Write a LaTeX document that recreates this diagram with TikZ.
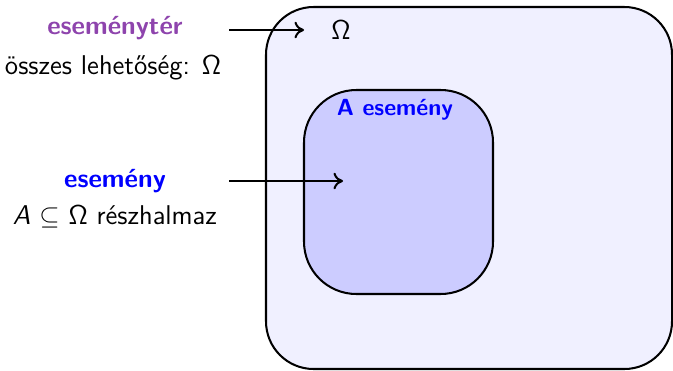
\documentclass[tikz,border=0pt]{standalone}
\usetikzlibrary{arrows.meta}
\definecolor{evpurple}{RGB}{142,68,173}
\definecolor{evblue}{RGB}{0,0,255}
\definecolor{outerfill}{RGB}{240,240,255}
\definecolor{innerfill}{RGB}{204,204,255}
\begin{document}
\begin{tikzpicture}[x=0.42pt,y=-0.42pt,
  every node/.style={font=\sffamily\fontsize{11.4}{13}\selectfont, inner sep=0pt},
  setbox/.style={draw=black, line width=0.85pt},
  head/.style={font=\sffamily\bfseries\fontsize{11}{13}\selectfont},
  smallhead/.style={font=\sffamily\bfseries\fontsize{9.8}{12}\selectfont},
  pointer/.style={-{To[length=4pt,width=7pt]}, line width=0.85pt}]
\useasboundingbox (0,0) rectangle (673,370);
\draw[setbox, fill=outerfill, rounded corners=20pt] (266,7) rectangle (672,369);
\draw[setbox, fill=innerfill, rounded corners=22pt] (304,90) rectangle (493,294);
\node[head, text=evpurple] (spacehead) at (115,28) {eseménytér};
\node (spacedesc) at (113,68) {összes lehetőség: Ω};
\node[head, text=evblue] (eventhead) at (115,181) {esemény};
\node (eventdesc) at (115,217) {\textit{A} $\subseteq$ Ω részhalmaz};
\node (omega) at (341,30) {Ω};
\node[smallhead, text=evblue] (alabel) at (395,110) {A esemény};
\coordinate (s1) at (229,30);
\coordinate (e1) at (304,30);
\coordinate (s2) at (229,181);
\coordinate (e2) at (343,181);
\draw[pointer] (s1) -- (e1);
\draw[pointer] (s2) -- (e2);
\end{tikzpicture}
\end{document}
